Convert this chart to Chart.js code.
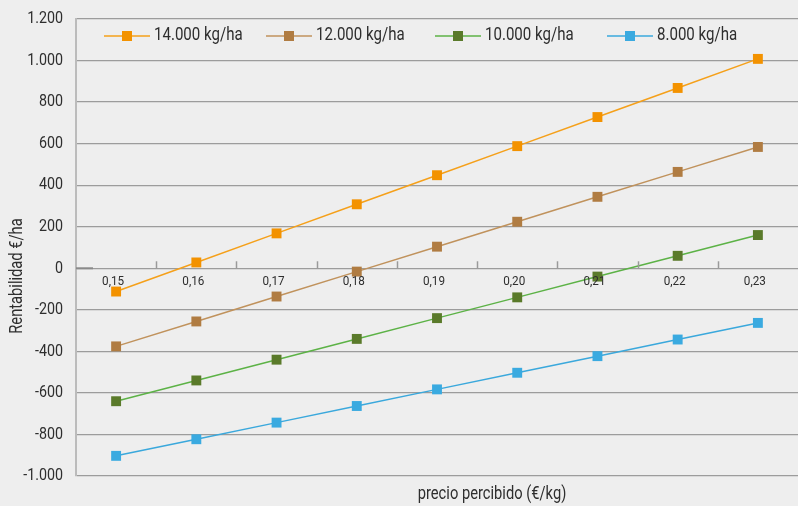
<!DOCTYPE html>
<html>
<head>
<meta charset="utf-8">
<script src="https://cdn.jsdelivr.net/npm/chart.js@4.4.1/dist/chart.umd.min.js"></script>
<style>
  html, body { margin: 0; padding: 0; background: #eeeeee; }
  #wrap { width: 798px; height: 506px; }
</style>
</head>
<body>
<div id="wrap"><canvas id="chart" width="798" height="506"></canvas></div>
<script>
const FONT = "Roboto, 'Noto Sans', sans-serif";

const precios = ["0,15", "0,16", "0,17", "0,18", "0,19", "0,20", "0,21", "0,22", "0,23"];
const yTicks = [-1000, -800, -600, -400, -200, 0, 200, 400, 600, 800, 1000, 1200];

const r14000 = [-112, 28, 168, 308, 448, 588, 728, 868, 1008];
const r12000 = [-376, -256, -136, -16, 104, 224, 344, 464, 584];
const r10000 = [-640, -540, -440, -340, -240, -140, -40, 60, 160];
const r8000 = [-903, -823, -743, -663, -583, -503, -423, -343, -263];

const series = [
  { label: "14.000 kg/ha", data: r14000, line: "#f5a01a", mark: "#f39200" },
  { label: "12.000 kg/ha", data: r12000, line: "#c0925c", mark: "#b07c42" },
  { label: "10.000 kg/ha", data: r10000, line: "#5cb246", mark: "#5a7a2a" },
  { label: "8.000 kg/ha", data: r8000, line: "#3aa8dc", mark: "#3aaae0" },
];

function fmt(v) {
  const s = String(Math.abs(v));
  const g = s.length > 3 ? s.slice(0, -3) + "." + s.slice(-3) : s;
  return (v < 0 ? "-" : "") + g;
}

// texto estrecho: no hay fuente condensada instalada, se comprime en x
function narrowText(ctx, text, x, y, size, sx, align) {
  ctx.save();
  ctx.font = size + "px " + FONT;
  ctx.textBaseline = "middle";
  ctx.textAlign = align;
  ctx.fillStyle = "#2e2e2e";
  ctx.translate(x, y);
  ctx.scale(sx, 1);
  ctx.fillText(text, 0, 0);
  ctx.restore();
}

const extras = {
  id: "extras",
  afterDraw(chart) {
    const ctx = chart.ctx;
    const x = chart.scales.x, y = chart.scales.y;
    const y0 = y.getPixelForValue(0);
    ctx.save();
    ctx.strokeStyle = "#9a9a9a";
    ctx.lineWidth = 1.5;
    for (let i = 0; i < precios.length - 1; i++) {
      const px = Math.round((x.getPixelForValue(i) + x.getPixelForValue(i + 1)) / 2) + 0.5;
      ctx.beginPath(); ctx.moveTo(px, y0 - 7); ctx.lineTo(px, y0); ctx.stroke();
    }
    ctx.strokeStyle = "#8a8a8a";
    ctx.lineWidth = 2;
    ctx.beginPath(); ctx.moveTo(chart.chartArea.left, y0); ctx.lineTo(chart.chartArea.left + 17, y0); ctx.stroke();

    const lx = [104, 266, 435, 607];
    series.forEach((s, i) => {
      ctx.strokeStyle = s.line;
      ctx.lineWidth = 1.5;
      ctx.beginPath(); ctx.moveTo(lx[i], 36); ctx.lineTo(lx[i] + 46, 36); ctx.stroke();
      ctx.fillStyle = s.mark;
      ctx.fillRect(lx[i] + 18, 31, 10, 10);
      narrowText(ctx, s.label, lx[i] + 50, 36, 17.5, 0.86, "left");
    });
    ctx.restore();

    yTicks.forEach(v => narrowText(ctx, fmt(v), 63, y.getPixelForValue(v), 17, 0.84, "right"));
    precios.forEach((p, i) => narrowText(ctx, p, x.getPixelForValue(i) - 3, y0 + 13, 13, 0.9, "center"));

    narrowText(ctx, "precio percibido (€/kg)", 492, 495, 17.5, 0.84, "center");
    ctx.save();
    ctx.translate(18, 276);
    ctx.rotate(-Math.PI / 2);
    narrowText(ctx, "Rentabilidad €/ha", 0, 0, 17.5, 0.84, "center");
    ctx.restore();
  }
};

new Chart(document.getElementById("chart"), {
  type: "line",
  data: {
    labels: precios,
    datasets: series.map(s => ({
      label: s.label,
      data: s.data,
      borderColor: s.line,
      borderWidth: 1.5,
      backgroundColor: s.mark,
      pointBackgroundColor: s.mark,
      pointBorderColor: s.mark,
      pointStyle: "rect",
      pointRadius: 7,
      pointBorderWidth: 0,
      tension: 0,
      fill: false,
    })),
  },
  options: {
    responsive: false,
    animation: false,
    layout: { autoPadding: false, padding: { top: 19, right: 0, bottom: 30, left: 0 } },
    plugins: { legend: { display: false }, tooltip: { enabled: false } },
    scales: {
      x: {
        type: "category",
        offset: true,
        display: false,
      },
      y: {
        min: -1000,
        max: 1200,
        afterFit(scale) { scale.width = 76; },
        afterBuildTicks(scale) { scale.ticks = yTicks.map(v => ({ value: v })); },
        grid: { color: "#9c9c9c", lineWidth: 1.2, drawTicks: false },
        border: { color: "#bbbbbb", width: 2 },
        ticks: { display: false },
      },
    },
  },
  plugins: [extras],
});
</script>
</body>
</html>
